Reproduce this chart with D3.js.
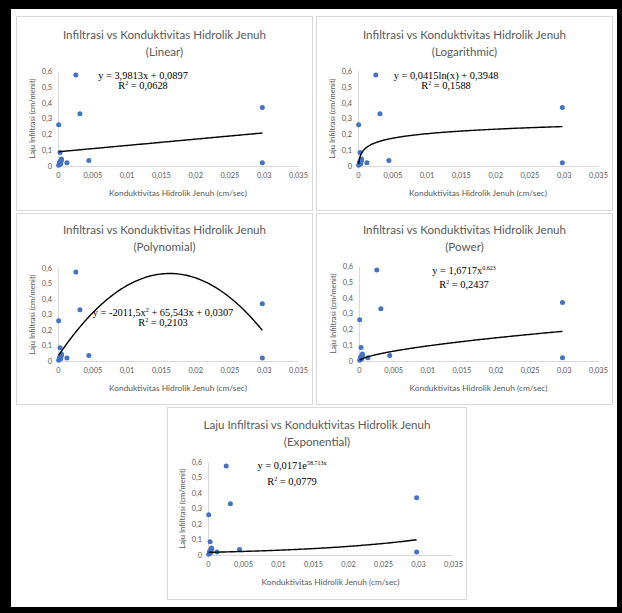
<!DOCTYPE html>
<html>
<head>
<meta charset="utf-8">
<script src="https://cdn.jsdelivr.net/npm/d3@7"></script>
<style>
  html, body { margin: 0; padding: 0; background: #000; }
  svg { display: block; }
</style>
</head>
<body>
<script>
const width = 622
const height = 613

// data (cm/sec, cm/menit)
const konduktivitas = [0.0001, 0.0001, 0.0002, 0.0002, 0.0003, 0.0003, 0.0004, 0.0005, 0.0005, 0.0013, 0.0026, 0.0032, 0.0045, 0.0298, 0.0298]
const infiltrasi = [0.005, 0.26, 0.01, 0.02, 0.03, 0.085, 0.015, 0.045, 0.035, 0.02, 0.575, 0.33, 0.035, 0.37, 0.02]

const xTicks = [0, 0.005, 0.01, 0.015, 0.02, 0.025, 0.03, 0.035]
const yTicks = [0, 0.1, 0.2, 0.3, 0.4, 0.5, 0.6]

const titles = [
  'Infiltrasi vs Konduktivitas Hidrolik Jenuh',
  'Infiltrasi vs Konduktivitas Hidrolik Jenuh',
  'Infiltrasi vs Konduktivitas Hidrolik Jenuh',
  'Infiltrasi vs Konduktivitas Hidrolik Jenuh',
  'Laju Infiltrasi vs Konduktivitas Hidrolik Jenuh'
]
const subtitles = ['(Linear)', '(Logarithmic)', '(Polynomial)', '(Power)', '(Exponential)']

// trendline coefficients as printed on each chart
const trendTypes = ['linear', 'log', 'poly', 'power', 'exp']
const trendCoef = [
  [3.9813, 0.0897],
  [0.0415, 0.3948],
  [-2011.5, 65.543, 0.0307],
  [1.6717, 0.623],
  [0.0171, 58.713]
]
const equations = [
  [['y = 3,9813x + 0,0897']],
  [['y = 0,0415ln(x) + 0,3948']],
  [['y = -2011,5x'], ['2', 1], [' + 65,543x + 0,0307']],
  [['y = 1,6717x'], ['0,623', 1]],
  [['y = 0,0171e'], ['58,713x', 1]]
]
const rSquared = ['0,0628', '0,1588', '0,2103', '0,2437', '0,0779']

const xLabel = 'Konduktivitas Hidrolik Jenuh (cm/sec)'
const yLabel = 'Laju Infiltrasi (cm/menit)'

// panel boxes and inner layout (pixels)
const panels = [
  {x: 16, y: 16, w: 297, h: 195, t1: 23, t2: 40, top: 55, bottom: 150, left: 42, right: 282, ex: 127, ey: 63, ry: 73},
  {x: 316, y: 16, w: 297, h: 195, t1: 23, t2: 40, top: 55, bottom: 150, left: 42, right: 282, ex: 130, ey: 63, ry: 73},
  {x: 16, y: 213, w: 297, h: 192, t1: 21, t2: 38, top: 55, bottom: 148, left: 42, right: 282, ex: 147, ey: 103, ry: 113},
  {x: 316, y: 213, w: 297, h: 192, t1: 21, t2: 38, top: 53, bottom: 148, left: 43, right: 282, ex: 148, ey: 61, ry: 75},
  {x: 167, y: 407, w: 300, h: 193, t1: 22, t2: 39, top: 55, bottom: 148, left: 41, right: 286, ex: 125, ey: 62, ry: 78}
]

const comma = s => s.replace('.', ',')

const svg = d3.select('body').append('svg')
  .attr('width', width)
  .attr('height', height)

// black frame + white sheet
svg.append('rect').attr('width', width).attr('height', height).attr('fill', '#000')
svg.append('rect')
  .attr('x', 11).attr('y', 9)
  .attr('width', 606).attr('height', 598)
  .attr('fill', '#fff')

const trend = (type, c, x) => {
  if (type === 'linear') return c[0] * x + c[1]
  if (type === 'log') return c[0] * Math.log(x) + c[1]
  if (type === 'poly') return c[0] * x * x + c[1] * x + c[2]
  if (type === 'power') return c[0] * Math.pow(x, c[1])
  return c[0] * Math.exp(c[1] * x)
}

const points = konduktivitas.map((k, i) => ({x: k, y: infiltrasi[i]}))
const xMin = d3.min(konduktivitas)
const xMax = d3.max(konduktivitas)

panels.forEach((p, i) => {
  const g = svg.append('g').attr('transform', 'translate(' + p.x + ',' + p.y + ')')

  g.append('rect')
    .attr('x', 0.5).attr('y', 0.5)
    .attr('width', p.w - 1).attr('height', p.h - 1)
    .attr('fill', '#fff')
    .attr('stroke', '#d9d9d9')

  const xScale = d3.scaleLinear().domain([0, 0.035]).range([p.left, p.right])
  const yScale = d3.scaleLinear().domain([0, 0.6]).range([p.bottom, p.top])

  // titles
  g.append('text')
    .attr('x', p.w / 2).attr('y', p.t1)
    .attr('text-anchor', 'middle')
    .style('font', '11.6px Lato')
    .attr('fill', '#595959')
    .text(titles[i])
  g.append('text')
    .attr('x', p.w / 2).attr('y', p.t2)
    .attr('text-anchor', 'middle')
    .style('font', '11.6px Lato')
    .attr('fill', '#595959')
    .text(subtitles[i])

  // axes
  const xAxis = d3.axisBottom(xScale)
    .tickValues(xTicks)
    .tickSize(0)
    .tickPadding(7)
    .tickFormat(d => comma(String(+d.toFixed(3))))
  const yAxis = d3.axisLeft(yScale)
    .tickValues(yTicks)
    .tickSize(0)
    .tickPadding(6)
    .tickFormat(d => comma(String(+d.toFixed(1))))

  const gx = g.append('g')
    .attr('transform', 'translate(0,' + p.bottom + ')')
    .call(xAxis)
  const gy = g.append('g')
    .attr('transform', 'translate(' + p.left + ',0)')
    .call(yAxis)

  ;[gx, gy].forEach(a => {
    a.select('.domain').attr('stroke', '#d9d9d9')
    a.selectAll('text')
      .attr('fill', '#595959')
      .style('font', '7.4px Lato')
  })

  g.append('text')
    .attr('x', (p.left + p.right) / 2).attr('y', p.bottom + 30)
    .attr('text-anchor', 'middle')
    .style('font', '8.4px Lato')
    .attr('fill', '#595959')
    .text(xLabel)

  g.append('text')
    .attr('transform', 'translate(' + (p.left - 23) + ',' + ((p.top + p.bottom) / 2) + ') rotate(-90)')
    .attr('text-anchor', 'middle')
    .style('font', '7.6px Lato')
    .attr('fill', '#595959')
    .text(yLabel)

  // points
  g.selectAll('circle')
    .data(points)
    .join('circle')
    .attr('cx', d => xScale(d.x))
    .attr('cy', d => yScale(d.y))
    .attr('r', 2.5)
    .attr('fill', '#4472c4')

  // trendline
  const xs = d3.range(0, 201).map(j => xMin + (xMax - xMin) * Math.pow(j / 200, 2))
  const line = d3.line()
    .x(d => xScale(d))
    .y(d => yScale(trend(trendTypes[i], trendCoef[i], d)))
  g.append('path')
    .datum(xs)
    .attr('d', line)
    .attr('fill', 'none')
    .attr('stroke', '#000')
    .attr('stroke-width', 1.4)

  // equation + R²
  const eq = g.append('text')
    .attr('x', p.ex).attr('y', p.ey)
    .attr('text-anchor', 'middle')
    .style('font', '10.4px "Liberation Serif"')
    .attr('fill', '#000')
  let raised = false
  equations[i].forEach(part => {
    const ts = eq.append('tspan').text(part[0])
    if (part[1]) {
      ts.attr('dy', -4).style('font-size', '6px')
      raised = true
    } else if (raised) {
      ts.attr('dy', 4)
      raised = false
    }
  })
  const r2 = g.append('text')
    .attr('x', p.ex).attr('y', p.ry)
    .attr('text-anchor', 'middle')
    .style('font', '10.4px "Liberation Serif"')
    .attr('fill', '#000')
  r2.append('tspan').text('R')
  r2.append('tspan').attr('dy', -4).style('font-size', '6px').text('2')
  r2.append('tspan').attr('dy', 4).text(' = ' + rSquared[i])
})
</script>
</body>
</html>
